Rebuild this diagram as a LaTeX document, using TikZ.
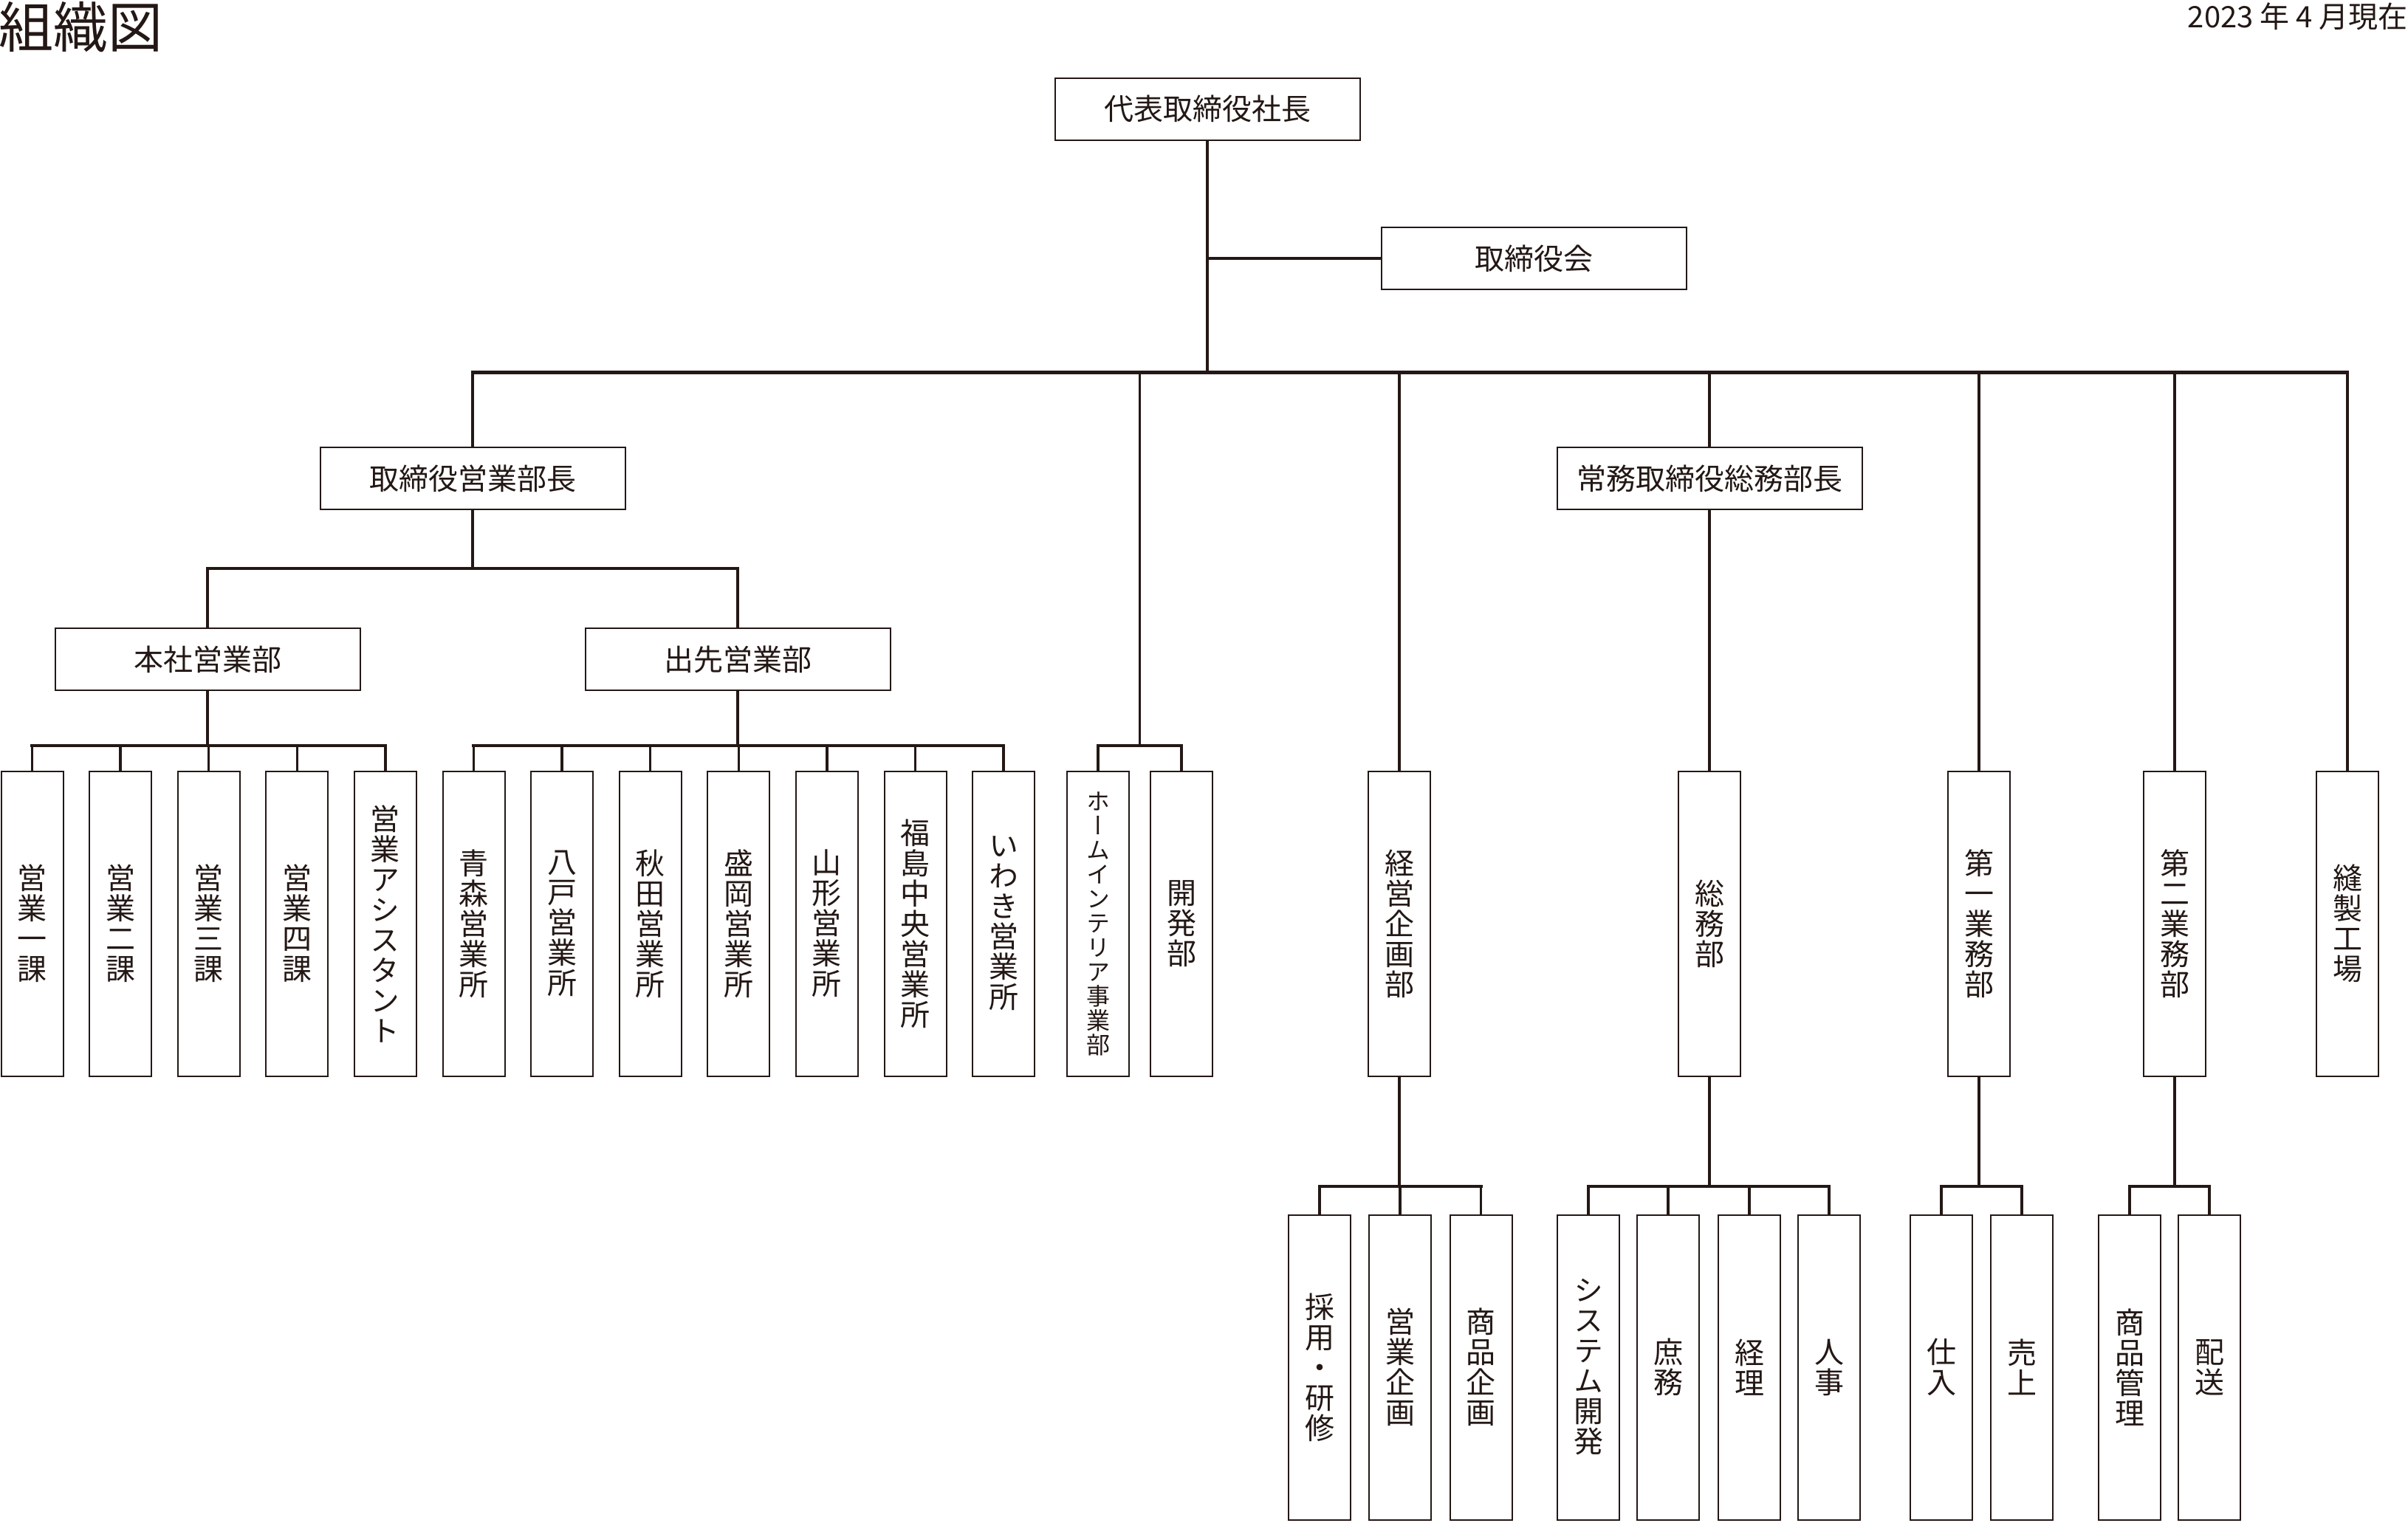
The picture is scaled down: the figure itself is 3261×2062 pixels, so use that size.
\documentclass[tikz,border=0pt]{standalone}
\usepackage{fontspec}
\usepackage{graphicx}
\setmainfont{Noto Sans CJK JP}
\newfontfamily\vfont[RawFeature=+vert]{Noto Sans CJK JP}
\definecolor{ink}{RGB}{35,24,21}
\tikzset{
  hbox/.style={draw=ink, line width=2pt, minimum width=413pt, minimum height=84pt,
    inner sep=0pt, text=ink, font=\fontsize{40}{41}\selectfont},
  vbox/.style={draw=ink, line width=2pt, minimum width=84pt, minimum height=413pt,
    inner sep=0pt, align=center, text=ink, font=\vfont\fontsize{40}{41}\selectfont},
  vboxs/.style={vbox, font=\vfont\fontsize{32}{33}\selectfont},
  vline/.style={draw=ink, line width=3.5pt},
  hline/.style={draw=ink, line width=4.5pt, line cap=rect},
}
\begin{document}
\begin{tikzpicture}[x=1pt,y=-1pt]
\fill[white] (0,0) rectangle (3261,2062);
\useasboundingbox (0,0) rectangle (3261,2062);

% titles
\node[anchor=west, inner sep=0pt, text=ink, font=\fontsize{74}{74}\selectfont] (title) at (-2,37) {組織図};
\node[anchor=east, inner sep=0pt, text=ink, font=\fontsize{40}{40}\selectfont] (date) at (3261,22) {2023 年 4 月現在};

% bus coordinates
\coordinate (topbus) at (0,504.5);
\coordinate (salesbus) at (0,770);
\coordinate (b3) at (0,1010);
\coordinate (b4) at (0,1607);
\coordinate (hg) at (1543.5,1010);

% top nodes
\node[hbox] (ceo) at (1635,147.5) {代表取締役社長};
\node[hbox] (board) at (2077.5,350) {取締役会};
\node[hbox] (sales) at (640,648) {取締役営業部長};
\node[hbox] (jomu) at (2315,648) {常務取締役総務部長};
\node[hbox] (honsha) at (281,893) {本社営業部};
\node[hbox] (desaki) at (999,893) {出先営業部};

% level 3 sales
\node[vbox] (s1) at (43.5,1251) {営\\業\\一\\課};
\node[vbox] (s2) at (163.1,1251) {営\\業\\二\\課};
\node[vbox] (s3) at (282.7,1251) {営\\業\\三\\課};
\node[vbox] (s4) at (402.3,1251) {営\\業\\四\\課};
\node[vbox] (s5) at (521.9,1251) {営\\業\\ア\\シ\\ス\\タ\\ン\\ト};
\node[vbox] (s6) at (641.5,1251) {青\\森\\営\\業\\所};
\node[vbox] (s7) at (761.1,1251) {八\\戸\\営\\業\\所};
\node[vbox] (s8) at (880.7,1251) {秋\\田\\営\\業\\所};
\node[vbox] (s9) at (1000.3,1251) {盛\\岡\\営\\業\\所};
\node[vbox] (s10) at (1119.9,1251) {山\\形\\営\\業\\所};
\node[vbox] (s11) at (1239.5,1251) {福\\島\\中\\央\\営\\業\\所};
\node[vbox] (s12) at (1359.1,1251) {い\\わ\\き\\営\\業\\所};

% level 3 others
\node[vboxs] (home) at (1487,1251) {ホ\\ー\\ム\\イ\\ン\\テ\\リ\\ア\\事\\業\\部};
\node[vbox] (kaihatsu) at (1600,1251) {開\\発\\部};
\node[vbox] (keiei) at (1895,1251) {経\\営\\企\\画\\部};
\node[vbox] (somu) at (2315,1251) {総\\務\\部};
\node[vbox] (dai1) at (2680,1251) {第\\一\\業\\務\\部};
\node[vbox] (dai2) at (2945,1251) {第\\二\\業\\務\\部};
\node[vbox] (hosei) at (3179,1251) {縫\\製\\工\\場};

% level 4
\node[vbox] (k1) at (1787,1852) {採\\用\\・\\研\\修};
\node[vbox] (k2) at (1896,1852) {営\\業\\企\\画};
\node[vbox] (k3) at (2005.5,1852) {商\\品\\企\\画};
\node[vbox] (m1) at (2151,1852) {シ\\ス\\テ\\ム\\開\\発};
\node[vbox] (m2) at (2259,1852) {庶\\務};
\node[vbox] (m3) at (2369,1852) {経\\理};
\node[vbox] (m4) at (2477,1852) {人\\事};
\node[vbox] (d1) at (2629,1852) {仕\\入};
\node[vbox] (d2) at (2738,1852) {売\\上};
\node[vbox] (e1) at (2884,1852) {商\\品\\管\\理};
\node[vbox] (e2) at (2992,1852) {配\\送};

% ---- connectors ----
% CEO trunk and board
\draw[vline] (ceo.south) -- (ceo.south |- topbus);
\draw[hline] (ceo.south |- board.west) -- (board.west);
% top bus
\draw[hline] (sales.north |- topbus) -- (hosei.north |- topbus);
\draw[vline] (sales.north |- topbus) -- (sales.north);
\draw[vline] (hg |- topbus) -- (hg);
\draw[vline] (keiei.north |- topbus) -- (keiei.north);
\draw[vline] (jomu.north |- topbus) -- (jomu.north);
\draw[vline] (dai1.north |- topbus) -- (dai1.north);
\draw[vline] (dai2.north |- topbus) -- (dai2.north);
\draw[vline] (hosei.north |- topbus) -- (hosei.north);
% sales head
\draw[vline] (sales.south) -- (sales.south |- salesbus);
\draw[hline] (honsha.north |- salesbus) -- (desaki.north |- salesbus);
\draw[vline] (honsha.north |- salesbus) -- (honsha.north);
\draw[vline] (desaki.north |- salesbus) -- (desaki.north);
% honsha
\draw[vline] (honsha.south) -- (honsha.south |- b3);
\draw[hline] (s1.north |- b3) -- (s5.north |- b3);
\foreach \n in {s1,s2,s3,s4,s5} \draw[vline] (\n.north |- b3) -- (\n.north);
% desaki
\draw[vline] (desaki.south) -- (desaki.south |- b3);
\draw[hline] (s6.north |- b3) -- (s12.north |- b3);
\foreach \n in {s6,s7,s8,s9,s10,s11,s12} \draw[vline] (\n.north |- b3) -- (\n.north);
% home group
\draw[hline] (home.north |- hg) -- (kaihatsu.north |- hg);
\draw[vline] (home.north |- hg) -- (home.north);
\draw[vline] (kaihatsu.north |- hg) -- (kaihatsu.north);
% jomu to somu
\draw[vline] (jomu.south) -- (somu.north);
% keiei
\draw[vline] (keiei.south) -- (keiei.south |- b4);
\draw[hline] (k1.north |- b4) -- (k3.north |- b4);
\foreach \n in {k1,k2,k3} \draw[vline] (\n.north |- b4) -- (\n.north);
% somu
\draw[vline] (somu.south) -- (somu.south |- b4);
\draw[hline] (m1.north |- b4) -- (m4.north |- b4);
\foreach \n in {m1,m2,m3,m4} \draw[vline] (\n.north |- b4) -- (\n.north);
% dai1
\draw[vline] (dai1.south) -- (dai1.south |- b4);
\draw[hline] (d1.north |- b4) -- (d2.north |- b4);
\foreach \n in {d1,d2} \draw[vline] (\n.north |- b4) -- (\n.north);
% dai2
\draw[vline] (dai2.south) -- (dai2.south |- b4);
\draw[hline] (e1.north |- b4) -- (e2.north |- b4);
\foreach \n in {e1,e2} \draw[vline] (\n.north |- b4) -- (\n.north);
\end{tikzpicture}
\end{document}
